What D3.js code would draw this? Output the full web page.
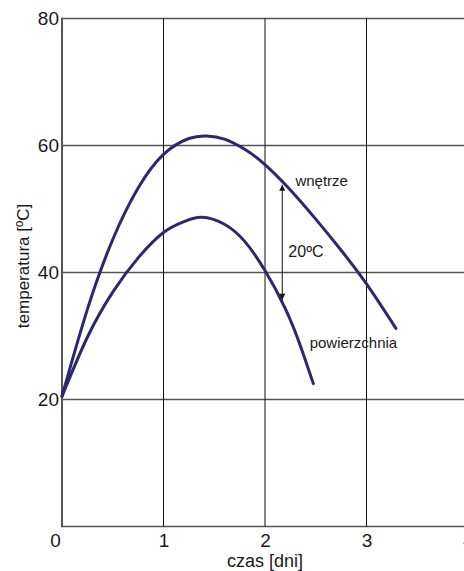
<!DOCTYPE html>
<html>
<head>
<meta charset="utf-8">
<script src="https://cdn.jsdelivr.net/npm/d3@7"></script>
<style>
  html, body { margin: 0; padding: 0; background: #fff; }
  svg { display: block; }
  text { font-family: "Liberation Sans", Arial, sans-serif; fill: #1a1a1a; }
</style>
</head>
<body>
<svg id="chart" width="464" height="571"></svg>
<script>
// ---- data ----
const xTicks = [0, 1, 2, 3, 4];
const yTicks = [20, 40, 60, 80];
const innerX = [0, 0.25, 0.5, 0.75, 1.0, 1.25, 1.425, 1.6, 1.8, 2.0, 2.25, 2.5, 2.75, 3.0, 3.29];
const innerY = [20.5, 34.2, 45.2, 53.3, 58.6, 61.1, 61.5, 61.0, 59.4, 57.0, 53.0, 48.4, 43.5, 38.2, 31.2];
const surfX = [0, 0.25, 0.5, 0.75, 1.0, 1.2, 1.376, 1.6, 1.8, 2.0, 2.2, 2.35, 2.476];
const surfY = [20.5, 29.8, 36.9, 42.3, 46.3, 48.0, 48.7, 47.6, 44.9, 40.3, 34.3, 28.4, 22.5];
const arrowX = 2.17;
const arrowY = [53.8, 35.7];
const labels = [
  { text: "wnętrze", x: 2.30, y: 53.6, size: 15 },
  { text: "20ºC", x: 2.23, y: 42.5, size: 16 },
  { text: "powierzchnia", x: 2.44, y: 28.1, size: 15 }
];
const xTitle = "czas [dni]";
const yTitle = "temperatura [ºC]";

// ---- layout ----
const svg = d3.select("#chart");
const x = d3.scaleLinear().domain([0, 4]).range([62, 468]);
const y = d3.scaleLinear().domain([0, 80]).range([526.5, 18.5]);
const navy = "#2b2870";
const fontFam = '"Liberation Sans", Arial, sans-serif';

// horizontal grid lines
svg.append("g").selectAll("line").data([0].concat(yTicks)).join("line")
  .attr("x1", x(0)).attr("x2", 464)
  .attr("y1", d => y(d)).attr("y2", d => y(d))
  .attr("stroke", "#555").attr("stroke-width", 1.6);

// vertical grid lines
svg.append("g").selectAll("line").data(xTicks.filter(d => d > 0)).join("line")
  .attr("x1", d => x(d)).attr("x2", d => x(d))
  .attr("y1", y(80)).attr("y2", y(0))
  .attr("stroke", "#111").attr("stroke-width", 1);

// left axis line
svg.append("line")
  .attr("x1", x(0)).attr("x2", x(0)).attr("y1", y(80) - 0.8).attr("y2", y(0) + 0.8)
  .attr("stroke", "#555").attr("stroke-width", 2);

// y tick labels
const yAxis = d3.axisLeft(y).tickValues(yTicks).tickSize(0).tickPadding(3).tickFormat(d3.format("d"));
const gy = svg.append("g").attr("transform", `translate(${x(0)},0)`).call(yAxis);
gy.select(".domain").remove();
gy.selectAll("text").attr("font-size", 19).attr("fill", "#1a1a1a").style("font-family", fontFam);

// x tick labels
const xAxis = d3.axisBottom(x).tickValues(xTicks).tickSize(0).tickPadding(7).tickFormat(d3.format("d"));
const gx = svg.append("g").attr("transform", `translate(0,${y(0)})`).call(xAxis);
gx.select(".domain").remove();
gx.selectAll("text").attr("font-size", 19).attr("fill", "#1a1a1a").style("font-family", fontFam)
  .attr("dx", d => d === 0 ? -7 : 0);

// curves
const line = d3.line().x(d => x(d[0])).y(d => y(d[1])).curve(d3.curveNatural);
const inner = innerX.map((v, i) => [v, innerY[i]]);
const surf = surfX.map((v, i) => [v, surfY[i]]);
[inner, surf].forEach(pts => {
  svg.append("path").attr("d", line(pts))
    .attr("fill", "none").attr("stroke", navy).attr("stroke-width", 3)
    .attr("stroke-linecap", "round").attr("stroke-linejoin", "round");
});

// double arrow
const defs = svg.append("defs");
defs.append("marker").attr("id", "ah").attr("viewBox", "0 0 10 10")
  .attr("refX", 10).attr("refY", 5).attr("markerWidth", 11).attr("markerHeight", 6)
  .attr("markerUnits", "userSpaceOnUse").attr("orient", "auto-start-reverse")
  .append("path").attr("d", "M0,0 L10,5 L0,10 Z").attr("fill", "#111");
svg.append("line")
  .attr("x1", x(arrowX)).attr("x2", x(arrowX))
  .attr("y1", y(arrowY[0])).attr("y2", y(arrowY[1]))
  .attr("stroke", "#111").attr("stroke-width", 1)
  .attr("marker-start", "url(#ah)").attr("marker-end", "url(#ah)");

// annotation labels
svg.append("g").selectAll("text").data(labels).join("text")
  .attr("x", d => x(d.x)).attr("y", d => y(d.y))
  .attr("font-size", d => d.size)
  .text(d => d.text);

// axis titles
svg.append("text").attr("x", x(2)).attr("y", 567).attr("text-anchor", "middle")
  .attr("font-size", 18).text(xTitle);
svg.append("text").attr("transform", "translate(29,266) rotate(-90)")
  .attr("text-anchor", "middle").attr("font-size", 17).text(yTitle);
</script>
</body>
</html>
